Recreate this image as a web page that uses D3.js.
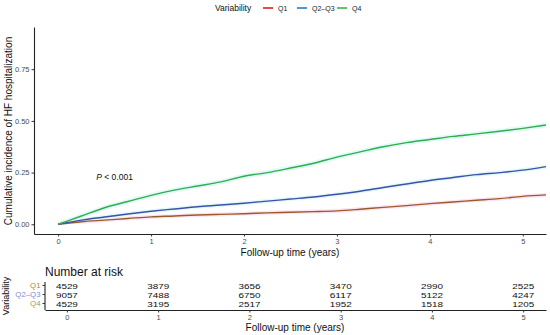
<!DOCTYPE html>
<html>
<head>
<meta charset="utf-8">
<script src="https://cdn.jsdelivr.net/npm/d3@7"></script>
<style>
  html, body { margin: 0; padding: 0; background: #fff; }
  svg { display: block; font-family: "Liberation Sans", Arial, sans-serif; }
</style>
</head>
<body>
<div id="chart"></div>
<script>
// 数据
const groups = ["Q1", "Q2\u2013Q3", "Q4"];
const times = [0, 0.25, 0.5, 0.75, 1, 1.25, 1.5, 1.75, 2, 2.25, 2.5, 2.75, 3, 3.25, 3.5, 3.75, 4, 4.25, 4.5, 4.75, 5, 5.25];
const incQ1   = [0, 0.012, 0.020, 0.028, 0.036, 0.040, 0.045, 0.048, 0.051, 0.055, 0.058, 0.061, 0.065, 0.073, 0.082, 0.090, 0.100, 0.108, 0.116, 0.124, 0.135, 0.142];
const incQ2Q3 = [0, 0.020, 0.035, 0.050, 0.063, 0.074, 0.085, 0.093, 0.102, 0.112, 0.122, 0.132, 0.145, 0.160, 0.178, 0.195, 0.212, 0.226, 0.240, 0.250, 0.262, 0.279];
const incQ4   = [0, 0.040, 0.080, 0.110, 0.140, 0.165, 0.185, 0.205, 0.232, 0.250, 0.272, 0.295, 0.325, 0.350, 0.375, 0.395, 0.410, 0.425, 0.437, 0.450, 0.464, 0.480];
const ciHalf = [0.010, 0.010, 0.012];
const yTicks = [0, 0.25, 0.5, 0.75];
const xTicks = [0, 1, 2, 3, 4, 5];
const riskTimes = [0, 1, 2, 3, 4, 5];
const riskQ1   = [4529, 3879, 3656, 3470, 2990, 2525];
const riskQ2Q3 = [9057, 7488, 6750, 6117, 5122, 4247];
const riskQ4   = [4529, 3195, 2517, 1952, 1518, 1205];

const legendColors = ["#e41a1c", "#2b7bba", "#3cb44a"];
const lineColors = ["#9b5a2c", "#3e50a8", "#33ad48"];
const bandColors = ["#fde3f2", "#ddf9f9", "#dcfaf8"];
const labelColors = ["#a58a4c", "#7f8dc9", "#7fa96c"];

const W = 550, H = 335;
const svg = d3.select("#chart").append("svg").attr("width", W).attr("height", H);

// 主图
const x = d3.scaleLinear().domain([-0.26, 5.25]).range([34, 546]);
const y = d3.scaleLinear().domain([-0.047, 0.954]).range([234, 27]);
const series = [incQ1, incQ2Q3, incQ4];

const area = (k) => d3.area()
  .x((d, i) => x(times[i]))
  .y0(d => y(Math.max(0, d - ciHalf[k])))
  .y1(d => y(d + ciHalf[k]))
  .curve(d3.curveMonotoneX);

const line = d3.line()
  .x((d, i) => x(times[i]))
  .y(d => y(d))
  .curve(d3.curveMonotoneX);

series.forEach((s, k) => {
  svg.append("path").datum(s).attr("d", area(k)).attr("fill", bandColors[k]).attr("opacity", 0.9);
});
series.forEach((s, k) => {
  svg.append("path").datum(s).attr("d", line)
    .attr("fill", "none").attr("stroke", lineColors[k]).attr("stroke-width", 1.4);
});

function styleAxis(g) {
  g.select(".domain").attr("stroke", "#222").attr("stroke-width", 1.1);
  g.selectAll(".tick line").attr("stroke", "#333");
  g.selectAll(".tick text").attr("fill", "#4d4d4d").style("font-size", "7.5px");
}

svg.append("g").attr("transform", "translate(0,234)")
  .call(d3.axisBottom(x).tickValues(xTicks).tickSize(2.5).tickPadding(2).tickSizeOuter(0).tickFormat(d3.format("d")))
  .call(styleAxis);
svg.append("g").attr("transform", "translate(34,0)")
  .call(d3.axisLeft(y).tickValues(yTicks).tickSize(2.5).tickPadding(2).tickSizeOuter(0).tickFormat(d3.format(".2f")))
  .call(styleAxis);

svg.append("text").attr("x", 290).attr("y", 256).attr("text-anchor", "middle")
  .style("font-size", "10px").attr("fill", "#111").text("Follow-up time (years)");
svg.append("text").attr("transform", "translate(12,131) rotate(-90)").attr("text-anchor", "middle")
  .style("font-size", "10px").attr("fill", "#111").text("Cumulative incidence of HF hospitalization");

const pText = svg.append("text").attr("x", x(0.41)).attr("y", 180)
  .style("font-size", "8.5px").attr("fill", "#111");
pText.append("tspan").attr("font-style", "italic").text("P");
pText.append("tspan").text(" < 0.001");

// 图例
const legend = svg.append("g").attr("transform", "translate(215,11)");
legend.append("text").attr("x", 0).attr("y", 0).style("font-size", "8.5px").attr("fill", "#111").text("Variability");
const legendX = [48, 82, 122];
groups.forEach((g, k) => {
  legend.append("line").attr("x1", legendX[k]).attr("x2", legendX[k] + 10).attr("y1", -3).attr("y2", -3)
    .attr("stroke", legendColors[k]).attr("stroke-width", 1.6);
  legend.append("text").attr("x", legendX[k] + 15).attr("y", 0).style("font-size", "7px").attr("fill", "#222").text(g);
});

// 风险表
const xr = d3.scaleLinear().domain([-0.24, 5.25]).range([45, 546]);
const rowY = [285.5, 294.5, 303.5];
const yr = d3.scaleOrdinal().domain(groups).range(rowY);
const riskRows = [riskQ1, riskQ2Q3, riskQ4];

svg.append("text").attr("x", 45).attr("y", 276).style("font-size", "12px").attr("fill", "#111").text("Number at risk");

riskRows.forEach((row, k) => {
  svg.append("g").selectAll("text").data(row).join("text")
    .attr("x", (d, i) => xr(riskTimes[i]))
    .attr("y", rowY[k] + 3)
    .attr("text-anchor", "middle")
    .attr("textLength", 22)
    .attr("lengthAdjust", "spacingAndGlyphs")
    .style("font-size", "7.8px").attr("fill", "#111")
    .text(d => d);
});

svg.append("g").attr("transform", "translate(0,310)")
  .call(d3.axisBottom(xr).tickValues(xTicks).tickSize(2.5).tickPadding(2).tickSizeOuter(0).tickFormat(d3.format("d")))
  .call(styleAxis);

const ryAxis = svg.append("g").attr("transform", "translate(45,0)");
ryAxis.append("line").attr("x1", 0).attr("x2", 0).attr("y1", 282).attr("y2", 310).attr("stroke", "#222").attr("stroke-width", 1.1);
groups.forEach((g, k) => {
  ryAxis.append("line").attr("x1", -2.5).attr("x2", 0).attr("y1", yr(g)).attr("y2", yr(g)).attr("stroke", "#333");
  ryAxis.append("text").attr("x", -4.5).attr("y", yr(g) + 2.8).attr("text-anchor", "end")
    .style("font-size", "7.8px").attr("fill", labelColors[k]).text(g);
});

svg.append("text").attr("x", 295).attr("y", 331).attr("text-anchor", "middle")
  .style("font-size", "10px").attr("fill", "#111").text("Follow-up time (years)");
svg.append("text").attr("transform", "translate(9,296) rotate(-90)").attr("text-anchor", "middle")
  .style("font-size", "9px").attr("fill", "#111").text("Variability");
</script>
</body>
</html>
